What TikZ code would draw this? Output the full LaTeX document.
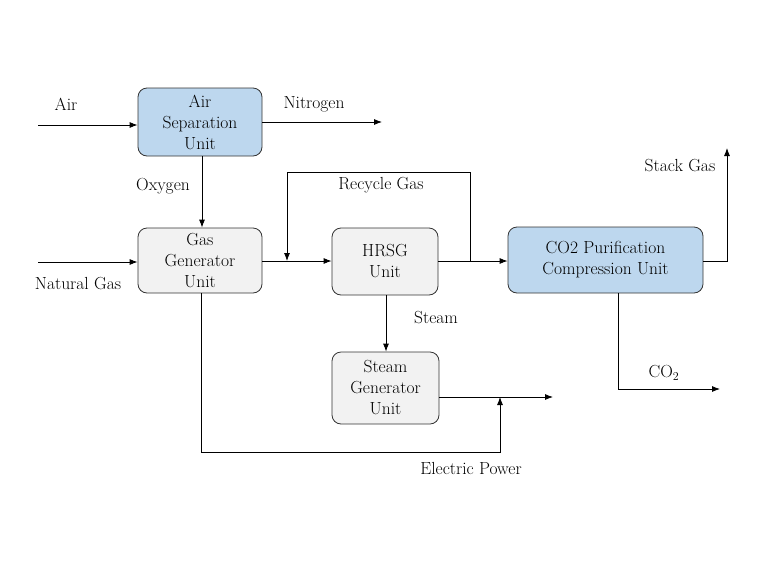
\documentclass[tikz,border=0pt]{standalone}
\usepackage{fontspec}
\usetikzlibrary{arrows.meta}
\begin{document}
\begin{tikzpicture}[x=1pt,y=-1pt,
  unitbox/.style={draw=black!80, line width=0.8pt, rounded corners=9pt, align=center, inner sep=0pt, font=\fontsize{17.5}{21}\selectfont\rmfamily},
  bluebox/.style={unitbox, fill={rgb,255:red,189;green,215;blue,238}},
  graybox/.style={unitbox, fill={rgb,255:red,242;green,242;blue,242}},
  lbl/.style={font=\fontsize{17.5}{21}\selectfont\rmfamily, inner sep=0pt},
  flow/.style={draw=black, line width=0.8pt, -{Latex[length=8pt,width=6pt]}}
]
\useasboundingbox (0,0) rectangle (768,576);
% boxes
\node[bluebox, minimum width=124pt, minimum height=68pt] (asu) at (200,122) {Air\\Separation\\Unit};
\node[graybox, minimum width=124pt, minimum height=65pt] (gg) at (200,260.5) {Gas\\Generator\\Unit};
\node[graybox, minimum width=106pt, minimum height=67pt] (hrsg) at (385,261.5) {HRSG\\Unit};
\node[bluebox, minimum width=195pt, minimum height=66pt] (co2) at (605.5,260) {CO2 Purification\\Compression Unit};
\node[graybox, minimum width=107pt, minimum height=72pt] (sg) at (385.5,388) {Steam\\Generator\\Unit};
% free ends
\coordinate (airin) at (38,125);
\coordinate (n2out) at (382,122);
\coordinate (ngin) at (38,262);
\coordinate (rc1) at (470,261);
\coordinate (rc2) at (470,172);
\coordinate (rc3) at (287,172);
\coordinate (rc4) at (287,261);
\coordinate (st1) at (727,261);
\coordinate (st2) at (727,148);
\coordinate (c1) at (618,389);
\coordinate (c2) at (720,389);
\coordinate (epout) at (553,397);
\coordinate (ep1) at (201,452);
\coordinate (ep2) at (500,452);
\coordinate (ep3) at (500,397);
\coordinate (stx) at (386,0);
% connectors
\draw[flow] (airin) -- (airin -| asu.west);
\draw[flow] (asu.east |- n2out) -- (n2out);
\draw[flow] (asu.south -| 202,0) -- (gg.north -| 202,0);
\draw[flow] (ngin) -- (ngin -| gg.west);
\draw[flow] (gg.east |- rc4) -- (hrsg.west |- rc4);
\draw[flow] (rc1) -- (rc2) -- (rc3) -- (rc4);
\draw[flow] (hrsg.east |- rc1) -- (co2.west |- rc1);
\draw[flow] (co2.east |- st1) -- (st1) -- (st2);
\draw[flow] (co2.south -| c1) -- (c1) -- (c2);
\draw[flow] (hrsg.south -| stx) -- (sg.north -| stx);
\draw[flow] (sg.east |- epout) -- (epout);
\draw[flow] (gg.south -| ep1) -- (ep1) -- (ep2) -- (ep3);
% labels
\node[lbl] (lair) at (66,104) {Air};
\node[lbl] (ln2) at (314,104) {Nitrogen};
\node[lbl] (lo2) at (163,186) {Oxygen};
\node[lbl] (lng) at (78,284) {Natural Gas};
\node[lbl] (lrc) at (381,185) {Recycle Gas};
\node[lbl] (lstack) at (680,166) {Stack Gas};
\node[lbl] (lco2) at (664,373) {CO$_2$};
\node[lbl] (lsteam) at (436,318) {Steam};
\node[lbl] (lep) at (471,468) {Electric Power};
\end{tikzpicture}
\end{document}
